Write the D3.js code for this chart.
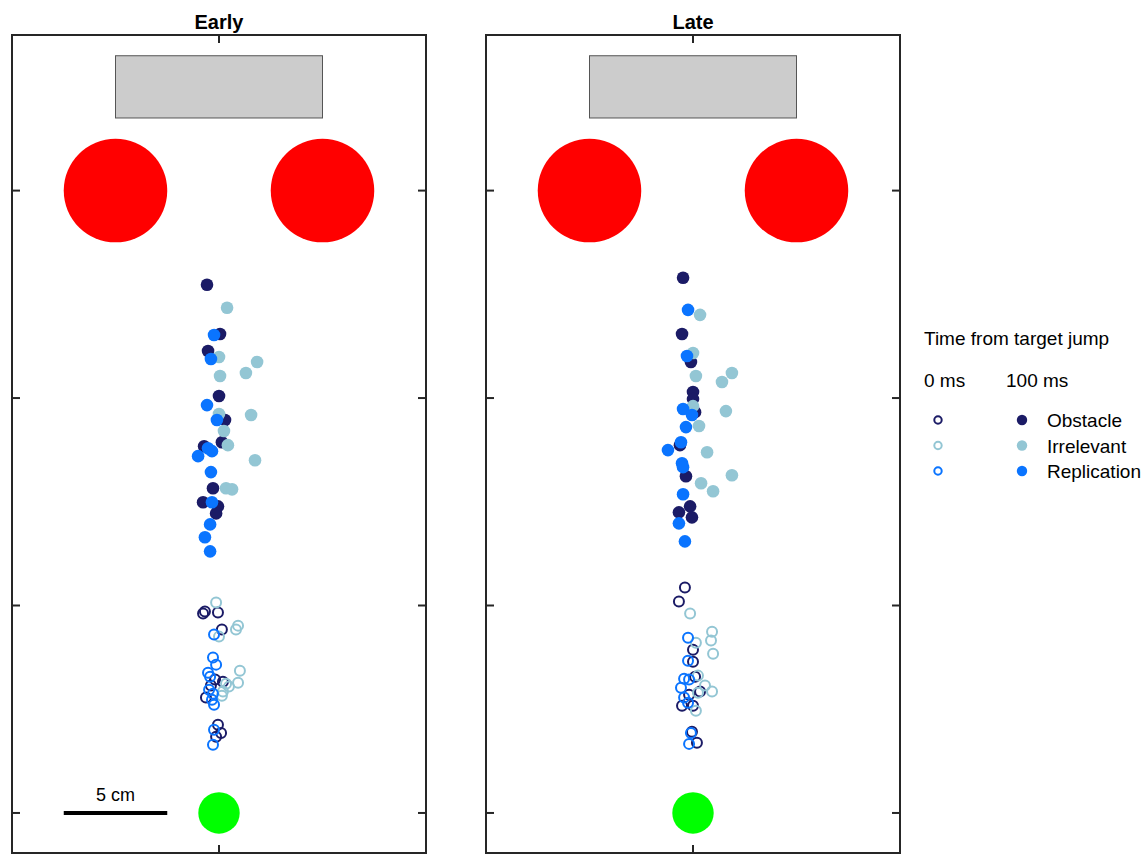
<!DOCTYPE html>
<meta charset="utf-8">
<style>
body { margin: 0; background: #fff; }
svg { font-family: "Liberation Sans", Arial, sans-serif; }
.frame { fill: none; stroke: #262626; stroke-width: 2px; }
.tick { stroke: #262626; stroke-width: 2px; }
</style>
<svg width="1145" height="854"></svg>
<script src="https://cdn.jsdelivr.net/npm/d3@7"></script>
<script>

// DATA (cm; x relative to midline, y from start position)
var panels = ["Early", "Late"];
var conditions = ["Obstacle", "Irrelevant", "Replication"];
var colors = ["#1b1b66", "#93c6d4", "#0a74ff"];
var yTicks = [0, 10, 20, 30];
var xTicks = [0];

// Early, 100 ms (filled)
var earlyLateX = {
  Obstacle:    [-0.58, 0.05, -0.53, 0.00, 0.29, -0.72, 0.14, -0.29, -0.77, -0.05, -0.14],
  Irrelevant:  [0.39, 0.00, 1.84, 1.30, 0.05, 0.00, 1.55, 0.24, 0.43, 1.74, 0.34, 0.63],
  Replication: [-0.24, -0.39, -0.58, -0.10, -0.53, -0.34, -1.01, -0.39, -0.34, -0.43, -0.68, -0.43]
};
var earlyLateY = {
  Obstacle:    [25.46, 23.09, 22.27, 20.10, 18.94, 17.68, 17.87, 15.65, 14.98, 14.78, 14.44],
  Irrelevant:  [24.35, 21.98, 21.74, 21.21, 21.06, 19.23, 19.18, 18.41, 17.73, 17.00, 15.65, 15.60],
  Replication: [23.04, 21.88, 19.66, 18.94, 17.58, 17.44, 17.20, 16.43, 14.98, 13.91, 13.29, 12.61]
};
// Early, 0 ms (open)
var earlyZeroX = {
  Obstacle:    [-0.68, -0.77, -0.05, 0.14, 0.19, -0.19, -0.39, -0.63, -0.05, 0.10, -0.14],
  Irrelevant:  [-0.14, 0.92, 0.82, 0.00, 1.01, 0.92, 0.34, 0.19, 0.14, 0.48],
  Replication: [-0.24, -0.29, -0.14, -0.53, -0.43, -0.48, -0.29, -0.34, -0.24, -0.24, -0.29]
};
var earlyZeroY = {
  Obstacle:    [9.71, 9.61, 9.66, 8.84, 6.33, 6.43, 6.14, 5.56, 4.25, 3.86, 3.67],
  Irrelevant:  [10.14, 9.03, 8.84, 8.50, 6.86, 6.28, 6.23, 5.85, 5.65, 6.09],
  Replication: [8.60, 7.49, 7.15, 6.76, 6.57, 5.94, 5.75, 5.46, 5.22, 4.01, 3.29]
};
// Late, 100 ms (filled)
var lateLateX = {
  Obstacle:    [-0.48, -0.53, -0.10, 0.00, 0.00, 0.10, -0.63, -0.34, -0.14, -0.68, -0.05],
  Irrelevant:  [0.34, 0.00, 0.14, 1.40, 1.88, 0.00, 1.59, 0.29, 0.68, 1.88, 0.39, 0.97],
  Replication: [-0.24, -0.29, -0.48, -0.05, -0.34, -0.58, -1.21, -0.53, -0.48, -0.48, -0.68, -0.39]
};
var lateLateY = {
  Obstacle:    [25.80, 23.09, 21.74, 20.29, 19.95, 19.32, 17.73, 16.23, 14.78, 14.49, 14.25],
  Irrelevant:  [24.01, 22.17, 21.06, 20.77, 21.21, 19.61, 19.37, 18.65, 17.39, 16.28, 15.89, 15.51],
  Replication: [24.25, 22.03, 19.47, 19.18, 18.60, 17.87, 17.49, 16.86, 16.67, 15.36, 13.96, 13.09]
};
// Late, 0 ms (open)
var lateZeroX = {
  Obstacle:    [-0.39, -0.68, 0.00, 0.00, 0.10, 0.34, -0.19, -0.53, 0.00, -0.05, 0.19],
  Irrelevant:  [-0.14, 0.92, 0.87, 0.97, 0.14, 0.24, 0.58, 0.92, 0.24, 0.14],
  Replication: [-0.24, -0.24, -0.43, -0.19, -0.58, -0.43, -0.24, -0.10, -0.19]
};
var lateZeroY = {
  Obstacle:    [10.87, 10.19, 7.87, 7.29, 6.57, 5.85, 5.70, 5.17, 5.17, 3.91, 3.38],
  Irrelevant:  [9.61, 8.74, 8.31, 7.68, 8.21, 6.62, 6.14, 5.85, 5.80, 4.93],
  Replication: [8.45, 7.34, 6.47, 6.43, 6.04, 5.56, 5.31, 3.86, 3.33]
};

// layout objects (cm)
var obstacle = {x0: -5, x1: 5, y0: 33.5, y1: 36.5};
var targets = [{x: -5, y: 30, r: 2.5}, {x: 5, y: 30, r: 2.5}];
var start = {x: 0, y: 0, r: 1};

var svg = d3.select("svg");
var panelLeft = [12, 486], panelW = 414, plotTop = 35, plotBottom = 853;

var y = d3.scaleLinear().domain([-1.93, 37.5]).range([plotBottom, plotTop]);

function zip(xs, ys) { return xs.map(function(v, i) { return [v, ys[i]]; }); }

panels.forEach(function(name, p) {
  var x = d3.scaleLinear().domain([-10, 10]).range([panelLeft[p], panelLeft[p] + panelW]);
  var k = x(1) - x(0);
  var g = svg.append("g");

  g.append("rect")
    .attr("x", x(obstacle.x0)).attr("y", y(obstacle.y1))
    .attr("width", x(obstacle.x1) - x(obstacle.x0))
    .attr("height", y(obstacle.y0) - y(obstacle.y1))
    .style("fill", "#cccccc").style("stroke", "#555").style("stroke-width", 1);

  g.selectAll(".target").data(targets).enter().append("circle")
    .attr("cx", function(d) { return x(d.x); })
    .attr("cy", function(d) { return y(d.y); })
    .attr("r", function(d) { return d.r * k; })
    .style("fill", "#ff0000");

  g.append("circle")
    .attr("cx", x(start.x)).attr("cy", y(start.y)).attr("r", start.r * k)
    .style("fill", "#00ff00");

  var zx = p === 0 ? earlyZeroX : lateZeroX, zy = p === 0 ? earlyZeroY : lateZeroY;
  var lx = p === 0 ? earlyLateX : lateLateX, ly = p === 0 ? earlyLateY : lateLateY;

  conditions.forEach(function(c, ci) {
    g.selectAll(null).data(zip(zx[c], zy[c])).enter().append("circle")
      .attr("cx", function(d) { return x(d[0]); })
      .attr("cy", function(d) { return y(d[1]); })
      .attr("r", 5)
      .style("fill", "none").style("stroke", colors[ci]).style("stroke-width", 2);
  });
  conditions.forEach(function(c, ci) {
    g.selectAll(null).data(zip(lx[c], ly[c])).enter().append("circle")
      .attr("cx", function(d) { return x(d[0]); })
      .attr("cy", function(d) { return y(d[1]); })
      .attr("r", 6.3)
      .style("fill", colors[ci]);
  });

  // frame + inward ticks
  g.append("rect").attr("class", "frame")
    .attr("x", x(-10)).attr("y", plotTop)
    .attr("width", panelW).attr("height", plotBottom - plotTop);
  var tl = 8;
  yTicks.forEach(function(t) {
    g.append("line").attr("class", "tick")
      .attr("x1", x(-10)).attr("x2", x(-10) + tl).attr("y1", y(t)).attr("y2", y(t));
    g.append("line").attr("class", "tick")
      .attr("x1", x(10)).attr("x2", x(10) - tl).attr("y1", y(t)).attr("y2", y(t));
  });
  xTicks.forEach(function(t) {
    g.append("line").attr("class", "tick")
      .attr("x1", x(t)).attr("x2", x(t)).attr("y1", plotTop).attr("y2", plotTop + tl);
    g.append("line").attr("class", "tick")
      .attr("x1", x(t)).attr("x2", x(t)).attr("y1", plotBottom).attr("y2", plotBottom - tl);
  });

  g.append("text")
    .attr("x", x(0)).attr("y", 29)
    .attr("text-anchor", "middle")
    .style("font-weight", "bold").style("font-size", "20px")
    .text(name);

  if (p === 0) {
    // 5 cm scale bar
    g.append("line")
      .attr("x1", x(-7.5)).attr("x2", x(-2.5)).attr("y1", y(0)).attr("y2", y(0))
      .style("stroke", "#000").style("stroke-width", 4);
    g.append("text")
      .attr("x", x(-5)).attr("y", y(0) - 12)
      .attr("text-anchor", "middle").style("font-size", "18px")
      .text("5 cm");
  }
});

// legend
var leg = svg.append("g").style("font-size", "19px");
leg.append("text").attr("x", 924).attr("y", 345).text("Time from target jump");
leg.append("text").attr("x", 924).attr("y", 387).text("0 ms");
leg.append("text").attr("x", 1006).attr("y", 387).text("100 ms");
conditions.forEach(function(c, i) {
  var ly = 420 + i * 25.5;
  leg.append("circle").attr("cx", 938).attr("cy", ly).attr("r", 3.7)
    .style("fill", "none").style("stroke", colors[i]).style("stroke-width", 2);
  leg.append("circle").attr("cx", 1022).attr("cy", ly).attr("r", 5.2)
    .style("fill", colors[i]);
  leg.append("text").attr("x", 1047).attr("y", ly + 7).text(c);
});

</script>
